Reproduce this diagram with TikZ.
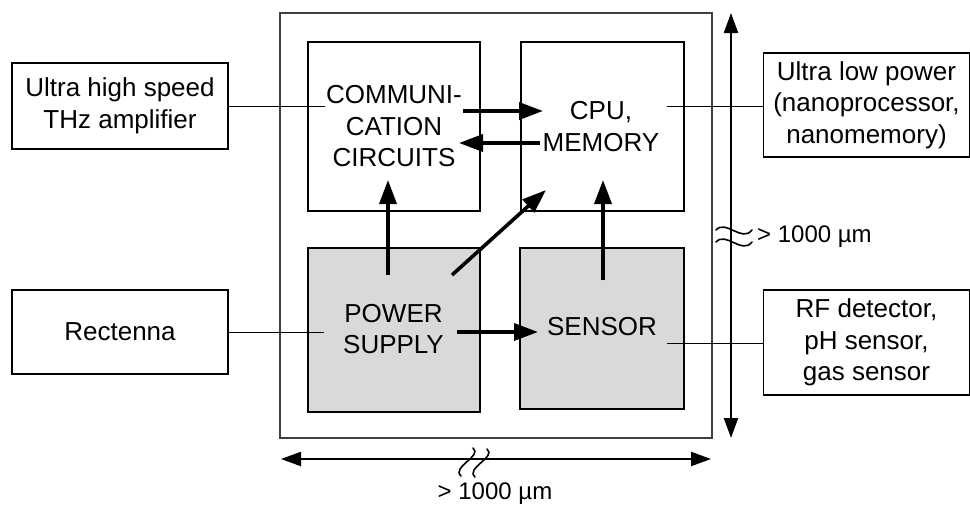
\documentclass[tikz,border=0pt]{standalone}
\usepackage{fontspec}
\setmainfont{Liberation Sans}
\usetikzlibrary{arrows.meta}
\definecolor{boxgray}{HTML}{D9D9D9}
\definecolor{framegray}{HTML}{404040}
\begin{document}
\begin{tikzpicture}[x=1pt,y=-1pt,
  lbl/.style={font=\fontsize{26}{31.5}\selectfont, align=center, inner sep=0pt},
  dimlbl/.style={font=\fontsize{24}{28}\selectfont, inner sep=0pt},
  sidebox/.style={draw=black, line width=1.2pt, fill=white, rectangle, inner sep=0pt, align=center, font=\fontsize{26}{31.5}\selectfont},
  blockbox/.style={draw=black, line width=1.2pt, rectangle, inner sep=0pt},
  thinline/.style={draw=black, line width=1pt},
  bigarrow/.style={draw=black, line width=3.6pt, -{Triangle[length=24pt,width=17pt]}},
  dimarrow/.style={draw=black, line width=2.2pt, {Triangle[length=20pt,width=14pt]}-{Triangle[length=20pt,width=14pt]}},
  breakmark/.style={draw=black, line width=1.6pt, line cap=round}
]
\useasboundingbox (0,0) rectangle (970,504);
% outer chip frame
\node[draw=framegray, line width=1.6pt, rectangle, minimum width=432pt, minimum height=425pt, inner sep=0pt] (chip) at (496,225.5) {};
% inner blocks
\node[blockbox, fill=white, minimum width=172pt, minimum height=169pt] (comm) at (394,126.5) {};
\node[blockbox, fill=white, minimum width=163pt, minimum height=169pt] (cpu) at (602.5,126.5) {};
\node[blockbox, fill=boxgray, minimum width=172pt, minimum height=164pt] (pwr) at (394,330) {};
\node[blockbox, fill=boxgray, minimum width=164pt, minimum height=161pt] (sens) at (602,328.5) {};
% block labels
\node[lbl] (commt) at (394,126.5) {COMMUNI-\\CATION\\CIRCUITS};
\node[lbl] (cput) at (601,126.5) {CPU,\\MEMORY};
\node[lbl] (pwrt) at (393.5,329) {POWER\\SUPPLY};
\node[lbl] (senst) at (602,327) {SENSOR};
% side boxes
\node[sidebox, minimum width=216pt, minimum height=86pt] (thz) at (120,106) {Ultra high speed\\THz amplifier};
\node[sidebox, minimum width=216pt, minimum height=84pt] (rect) at (120,332) {Rectenna};
\node[sidebox, minimum width=206pt, minimum height=104pt] (ulp) at (866.5,105) {Ultra low power\\(nanoprocessor,\\nanomemory)};
\node[sidebox, minimum width=206pt, minimum height=105pt] (rf) at (866.5,342.5) {RF detector,\\pH sensor,\\gas sensor};
% connector end points inside blocks
\coordinate (thzend) at (325,106);
\coordinate (rectend) at (324,332);
\coordinate (ulpend) at (667,106);
\coordinate (rfend) at (667,343);
\draw[thinline] (thz.east |- thzend) -- (thzend);
\draw[thinline] (rect.east |- rectend) -- (rectend);
\draw[thinline] (ulpend) -- (ulp.west |- ulpend);
\draw[thinline] (rfend) -- (rf.west |- rfend);
% internal arrows
\coordinate (a1s) at (463,111); \coordinate (a1e) at (543,111);
\coordinate (a2s) at (540,143); \coordinate (a2e) at (459,143);
\coordinate (a3s) at (388,275); \coordinate (a3e) at (388,180);
\coordinate (a4s) at (452,275); \coordinate (a4e) at (546,190);
\coordinate (a5s) at (603,280); \coordinate (a5e) at (603,180);
\coordinate (a6s) at (457,332); \coordinate (a6e) at (538,332);
\draw[bigarrow] (a1s) -- (a1e);
\draw[bigarrow] (a2s) -- (a2e);
\draw[bigarrow] (a3s) -- (a3e);
\draw[bigarrow] (a4s) -- (a4e);
\draw[bigarrow] (a5s) -- (a5e);
\draw[bigarrow] (a6s) -- (a6e);
% dimension arrows
\coordinate (vtop) at (731,13);
\coordinate (vbot) at (731,438);
\coordinate (hl) at (281,459);
\coordinate (hr) at (711,459);
\draw[dimarrow] (vtop) -- (vbot);
\draw[dimarrow] (hl) -- (hr);
% break marks
\draw[breakmark] (716,230) .. controls (726,219) and (742,243) .. (752,230);
\draw[breakmark] (716,242) .. controls (726,231) and (742,255) .. (752,242);
\draw[breakmark] (473,448) .. controls (483,456) and (451,467) .. (461,476);
\draw[breakmark] (487,449) .. controls (497,457) and (465,468) .. (475,477);
% dimension labels
\node[dimlbl, anchor=west] (vlab) at (757,237) {> 1000 µm};
\node[dimlbl] (hlab) at (495,494) {> 1000 µm};
\end{tikzpicture}
\end{document}
